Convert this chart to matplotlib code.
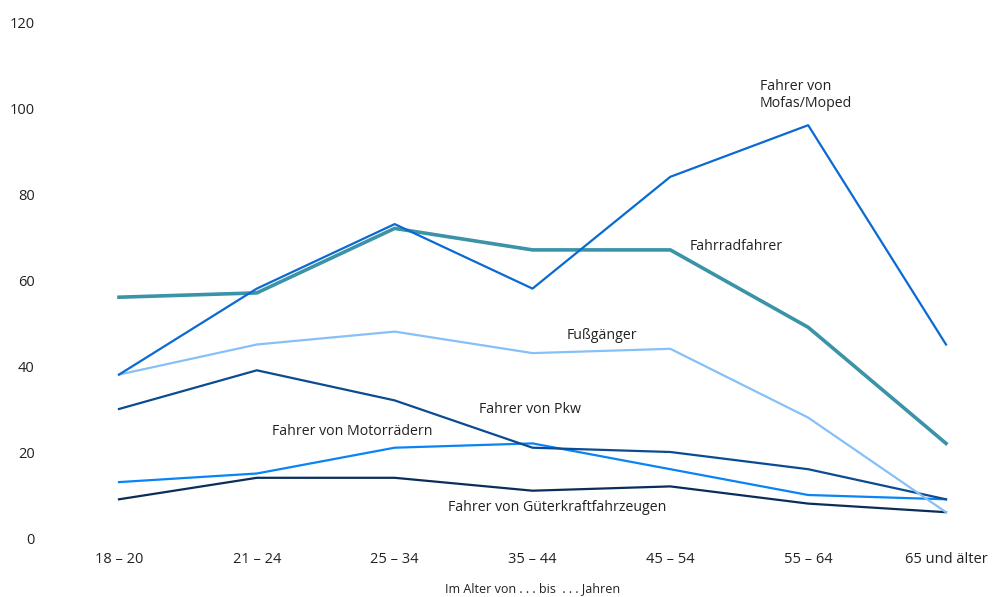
import matplotlib
matplotlib.use("Agg")
import matplotlib.pyplot as plt

categories = ["18 – 20", "21 – 24", "25 – 34", "35 – 44", "45 – 54", "55 – 64", "65 und älter"]
mofa = [38, 58, 73, 58, 84, 96, 45]
fahrrad = [56, 57, 72, 67, 67, 49, 22]
fussgaenger = [38, 45, 48, 43, 44, 28, 6]
pkw = [30, 39, 32, 21, 20, 16, 9]
motorrad = [13, 15, 21, 22, 16, 10, 9]
gueter = [9, 14, 14, 11, 12, 8, 6]
yticks = [0, 20, 40, 60, 80, 100, 120]

plt.rcParams['font.family'] = ['Open Sans', 'DejaVu Sans']

fig = plt.figure(figsize=(9.93, 5.97), dpi=100)
W, H = 993, 597
left_px, right_px, top_px, bot_px = 50, 990, 22, 538
ax = fig.add_axes([left_px / W, 1 - bot_px / H, (right_px - left_px) / W, (bot_px - top_px) / H])

x = list(range(len(categories)))
ax.plot(x, gueter, color="#0b2d5a", lw=1.6)
ax.plot(x, motorrad, color="#0a84f5", lw=1.6)
ax.plot(x, pkw, color="#0b4b91", lw=1.6)
ax.plot(x, fussgaenger, color="#86c0f7", lw=1.6)
ax.plot(x, fahrrad, color="#3a93a6", lw=2.6)
ax.plot(x, mofa, color="#0a6ad2", lw=1.6)

dx = 6 / (946 - 119)
ax.set_xlim(-(119 - left_px) * dx, 6 + (right_px - 946) * dx)
ax.set_ylim(0, 120)
ax.set_xticks(x)
ax.set_xticklabels(categories)
ax.set_yticks(yticks)
ax.tick_params(axis='both', length=0, labelsize=10.5, colors="#222222")
ax.tick_params(axis='y', pad=11)
ax.tick_params(axis='x', pad=10)
for s in ax.spines.values():
    s.set_visible(False)

ax.set_xlabel("Im Alter von . . . bis  . . . Jahren", fontsize=9, color="#222222")
ax.xaxis.set_label_coords((533 - left_px) / (right_px - left_px), -(582 - bot_px) / (bot_px - top_px))

tc = "#222222"
fs = 10.2
ax.text(4.65, 103.0, "Fahrer von\nMofas/Moped", fontsize=fs, color=tc, va='center', ha='left', linespacing=1.2)
ax.text(4.14, 67.9, "Fahrradfahrer", fontsize=fs, color=tc, va='center', ha='left')
ax.text(3.25, 47.2, "Fußgänger", fontsize=fs, color=tc, va='center', ha='left')
ax.text(2.61, 29.8, "Fahrer von Pkw", fontsize=fs, color=tc, va='center', ha='left')
ax.text(1.11, 24.7, "Fahrer von Motorrädern", fontsize=fs, color=tc, va='center', ha='left')
ax.text(2.39, 7.0, "Fahrer von Güterkraftfahrzeugen", fontsize=fs, color=tc, va='center', ha='left')

fig.savefig("out.png", dpi=100)
